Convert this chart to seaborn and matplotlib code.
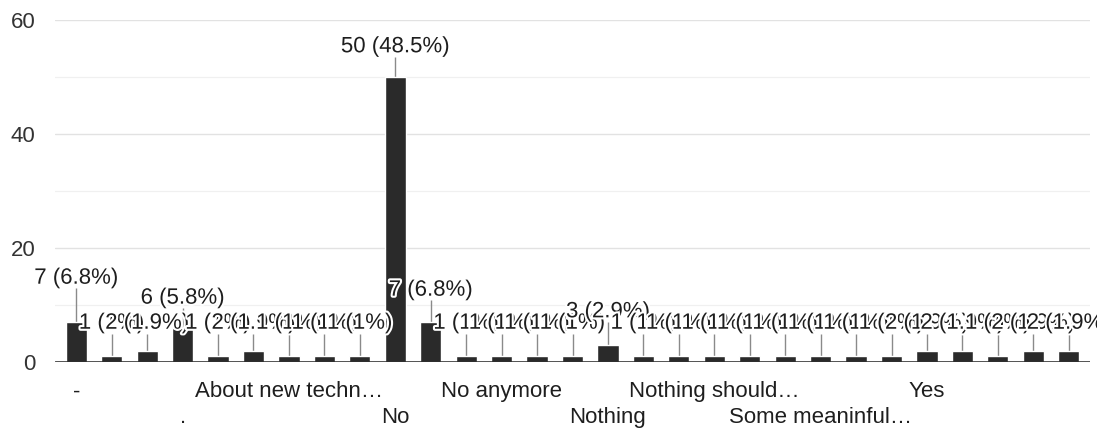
#!/usr/bin/env python3
"""Google-Forms style bar chart of free-text answers (counts with percentages)."""
import matplotlib

matplotlib.use("Agg")
import matplotlib.pyplot as plt
import matplotlib.patheffects as pe
from matplotlib.ticker import MultipleLocator
import pandas as pd
import seaborn as sns

# answers are sorted alphabetically, only every third one gets a tick label
COUNTS = [7, 1, 2, 6, 1, 2, 1, 1, 1, 50, 7, 1, 1, 1, 1, 3, 1, 1, 1, 1, 1, 1, 1, 1, 2, 2, 1, 2, 2]
TICK_LABELS = [
    "-", "", "", ".", "", "", "About new techn\u2026", "", "",
    "No", "", "", "No anymore", "", "", "Nothing", "", "",
    "Nothing should\u2026", "", "", "Some meaninful\u2026", "", "",
    "Yes", "", "", "", "",
]
Y_TICKS = [0, 20, 40, 60]

# where the value labels sit (data units), the chart lifts some to dodge neighbours
LABEL_LEVEL_DEFAULT = 6.8
LABEL_LEVEL = {0: 14.7, 3: 11.2, 9: 55.3, 10: 12.6, 15: 8.8}

BAR_COLOR = "#2a2a2a"
TEXT_COLOR = "#1e1e1e"


def pct_text(v: int, total: int) -> str:
    p = f"{v / total * 100:.1f}".rstrip("0").rstrip(".")
    return f"{v} ({p}%)"


def main() -> None:
    sns.set_style("white")
    plt.rcParams["font.family"] = ["Liberation Sans", "DejaVu Sans"]

    df = pd.DataFrame({"pos": range(len(COUNTS)), "count": COUNTS})
    total = sum(COUNTS)

    fig = plt.figure(figsize=(10.97, 4.28), dpi=100)
    ax = fig.add_axes([55 / 1097, 1 - 362 / 428, 1035 / 1097, 342 / 428])

    sns.barplot(data=df, x="pos", y="count", color=BAR_COLOR, width=0.6,
                saturation=1, ax=ax, zorder=3)

    ax.set_xlim(-0.6, len(COUNTS) - 0.4)
    ax.set_ylim(0, 60)
    ax.set_yticks(Y_TICKS)
    ax.yaxis.set_minor_locator(MultipleLocator(10))
    ax.grid(axis="y", which="major", color="#e2e2e2", lw=1.0, zorder=0)
    ax.grid(axis="y", which="minor", color="#f0f0f0", lw=0.9, zorder=0)
    ax.axhline(0, color="#222222", lw=1.8, zorder=4)
    for s in ax.spines.values():
        s.set_visible(False)

    # two staggered rows of x labels
    labels = []
    row = 0
    for t in TICK_LABELS:
        if t:
            labels.append(t if row == 0 else "\n" + t)
            row = 1 - row
        else:
            labels.append("")
    ax.set_xticks(range(len(COUNTS)))
    ax.set_xticklabels(labels, fontsize=16, color=TEXT_COLOR, linespacing=1.3)
    ax.tick_params(axis="x", length=0, pad=14)
    ax.tick_params(axis="y", which="both", length=0, pad=14, labelsize=16, labelcolor="#333333")
    ax.set_xlabel("")
    ax.set_ylabel("")

    halo = [pe.withStroke(linewidth=3, foreground="white")]
    for i, v in enumerate(COUNTS):
        level = LABEL_LEVEL.get(i, LABEL_LEVEL_DEFAULT)
        ax.vlines(i, v, level - 1.8, color="#8a8a8a", lw=1.0, zorder=2)
        ax.text(i, level, pct_text(v, total), ha="center", va="center",
                fontsize=16, color=TEXT_COLOR, path_effects=halo, zorder=6)

    fig.savefig("out.png", dpi=100, facecolor="white")


if __name__ == "__main__":
    main()
